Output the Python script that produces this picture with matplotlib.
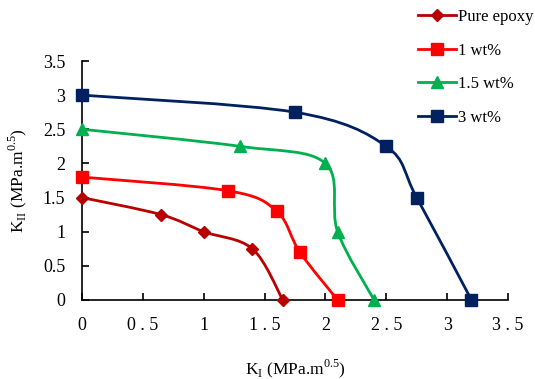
import matplotlib
matplotlib.use("Agg")
import matplotlib.pyplot as plt
from matplotlib.path import Path
from matplotlib.patches import PathPatch
from matplotlib.lines import Line2D
import numpy as np

plt.rcParams['font.family'] = ['Liberation Serif', 'DejaVu Serif']
plt.rcParams['mathtext.fontset'] = 'custom'
plt.rcParams['mathtext.rm'] = 'Liberation Serif'

labels = ["Pure epoxy", "1 wt%", "1.5 wt%", "3 wt%"]
x_pure = [0, 0.65, 1.0, 1.4, 1.65]
y_pure = [1.5, 1.25, 1.0, 0.75, 0.0]
x_1 = [0, 1.2, 1.6, 1.79, 2.1]
y_1 = [1.8, 1.6, 1.3, 0.7, 0.0]
x_15 = [0, 1.3, 2.0, 2.1, 2.4]
y_15 = [2.5, 2.25, 2.0, 1.0, 0.0]
x_3 = [0, 1.75, 2.5, 2.75, 3.2]
y_3 = [3.0, 2.75, 2.25, 1.5, 0.0]

xticks = [0, 0.5, 1, 1.5, 2, 2.5, 3, 3.5]
xticklabels = ["0", "0 . 5", "1", "1 . 5", "2", "2 . 5", "3", "3 . 5"]
yticks = [0, 0.5, 1, 1.5, 2, 2.5, 3, 3.5]
yticklabels = ["0", "0.5", "1", "1.5", "2", "2.5", "3", "3.5"]

series = [
    (x_pure, y_pure, '#B80000', 'D', 6),
    (x_1, y_1, '#FF0000', 's', 8),
    (x_15, y_15, '#00B050', '^', 8),
    (x_3, y_3, '#002060', 's', 8),
]

fig = plt.figure(figsize=(5.35, 3.79), dpi=100)
ax = fig.add_axes([82/535, 1-300/379, (508-82)/535, (300-61)/379])

def smooth_path(xs, ys):
    P = np.column_stack([xs, ys]).astype(float)
    n = len(P)
    verts = [P[0]]
    codes = [Path.MOVETO]
    for i in range(n - 1):
        p0 = P[i - 1] if i > 0 else P[i]
        p1 = P[i]
        p2 = P[i + 1]
        p3 = P[i + 2] if i + 2 < n else P[i + 1]
        c1 = p1 + (p2 - p0) / 6.0
        c2 = p2 - (p3 - p1) / 6.0
        verts += [c1, c2, p2]
        codes += [Path.CURVE4] * 3
    return Path(verts, codes)

handles = []
for (xs, ys, col, mk, ms), lab in zip(series, labels):
    patch = PathPatch(smooth_path(xs, ys), fill=False, edgecolor=col, lw=2.0,
                      transform=ax.transData, clip_on=False, zorder=3)
    ax.add_patch(patch)
    ax.plot(xs, ys, linestyle='none', marker=mk, color=col, markersize=ms,
            clip_on=False, zorder=4)
    handles.append(Line2D([], [], color=col, lw=2.0, marker=mk, markersize=ms))

ax.set_xlim(0, 3.5)
ax.set_ylim(0, 3.5)
ax.set_xticks(xticks)
ax.set_xticklabels(xticklabels)
ax.set_yticks(yticks)
ax.set_yticklabels(yticklabels)
ax.spines['top'].set_visible(False)
ax.spines['right'].set_visible(False)
for s in ['left', 'bottom']:
    ax.spines[s].set_linewidth(1.2)
ax.tick_params(direction='in', length=5, width=1.2, labelsize=13)
ax.tick_params(axis='x', pad=12)
ax.tick_params(axis='y', pad=12)

ax.set_xlabel(r'K$_\mathregular{I}$ (MPa.m$^\mathregular{0.5}$)', fontsize=12.5, labelpad=17)
ax.set_ylabel(r'K$_\mathregular{II}$ (MPa.m$^\mathregular{0.5}$)', fontsize=12.5, labelpad=10)

fig.legend(handles, labels, loc='upper left', bbox_to_anchor=(403/535, 1.015),
           frameon=False, fontsize=12, handlelength=2.3, handletextpad=0.1,
           labelspacing=1.05)

fig.savefig('out.png', dpi=100)
